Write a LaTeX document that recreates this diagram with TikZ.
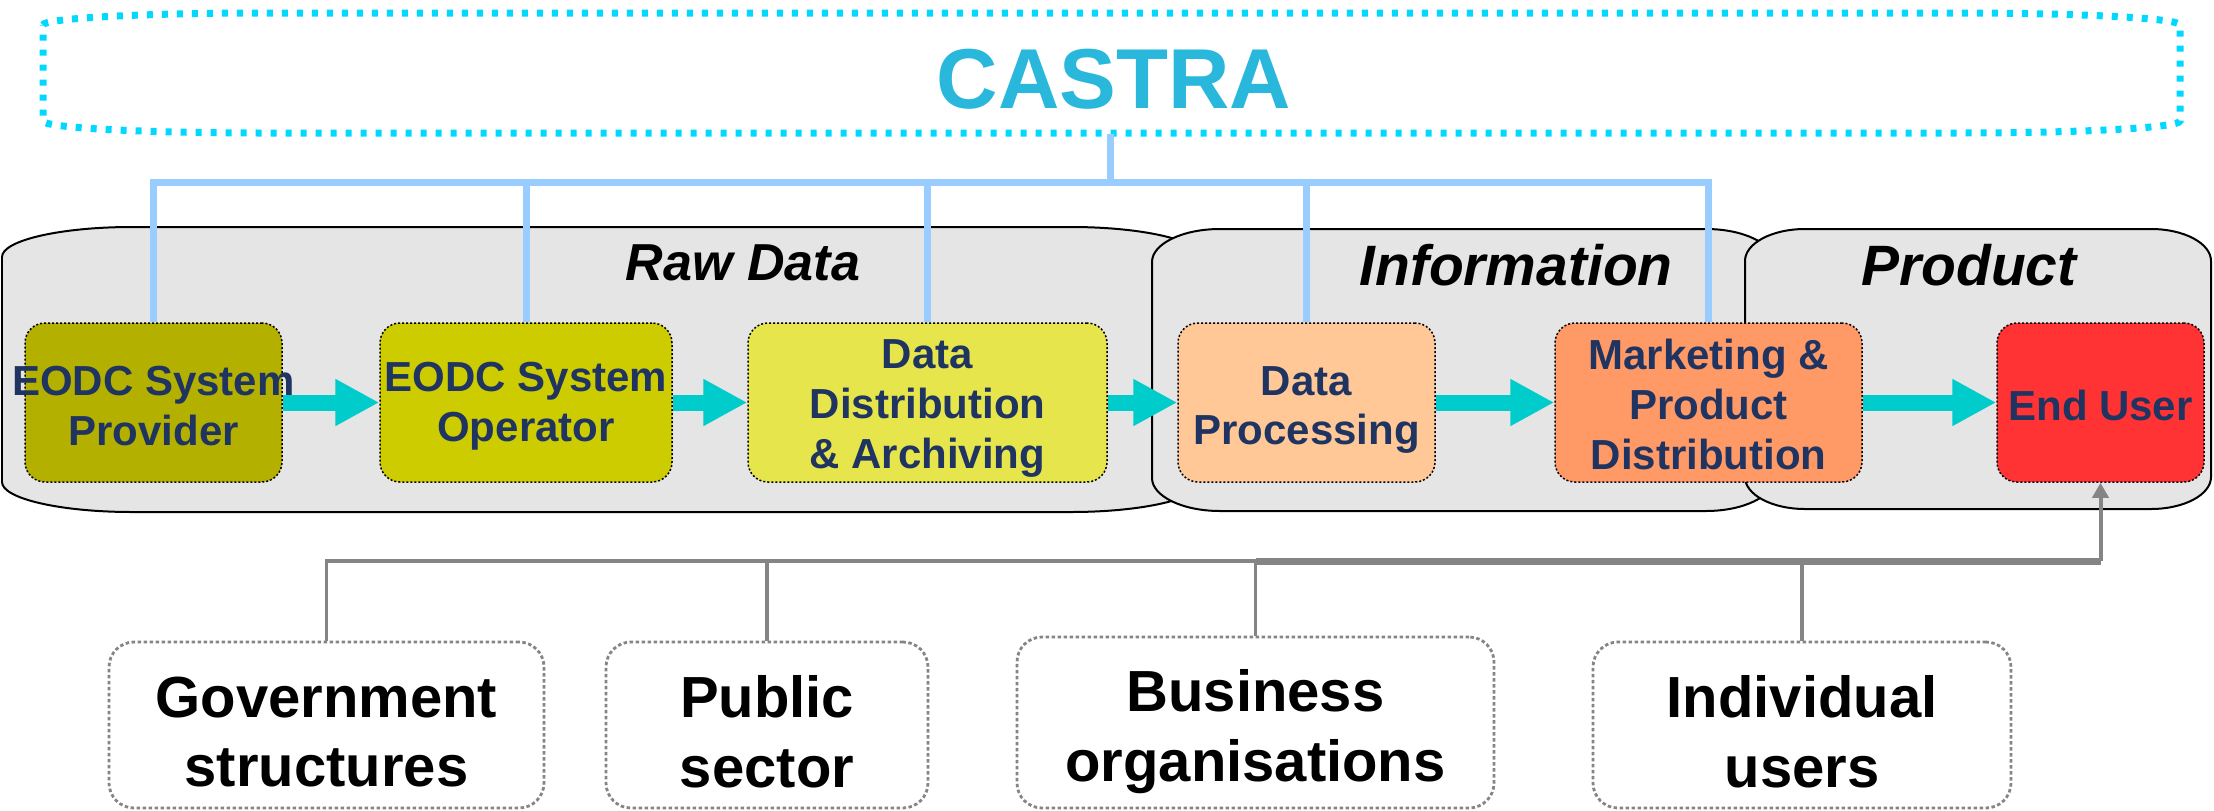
\documentclass[tikz,border=0pt]{standalone}
\usepackage{fontspec}
\setmainfont{Liberation Sans}
\usepackage{xcolor}
\usetikzlibrary{arrows.meta}

\definecolor{castracyan}{HTML}{00D8FF}
\definecolor{castratext}{HTML}{29B8DC}
\definecolor{linkblue}{HTML}{99CCFF}
\definecolor{groupgray}{HTML}{E5E5E5}
\definecolor{stagenavy}{HTML}{1F3461}
\definecolor{provcol}{HTML}{B3B000}
\definecolor{opercol}{HTML}{CCCC00}
\definecolor{archcol}{HTML}{E6E64C}
\definecolor{proccol}{HTML}{FFC896}
\definecolor{markcol}{HTML}{FF9966}
\definecolor{usercol}{HTML}{FF3333}
\definecolor{flowcyan}{HTML}{00CCCC}
\definecolor{usergray}{HTML}{858585}

% x1,y1,x2,y2,rx,ry
\newcommand{\ovalpath}[6]{(#1,#2+#6) .. controls (#1,#2+0.448*#6) and (#1+0.448*#5,#2) .. (#1+#5,#2)
 -- (#3-#5,#2) .. controls (#3-0.448*#5,#2) and (#3,#2+0.448*#6) .. (#3,#2+#6)
 -- (#3,#4-#6) .. controls (#3,#4-0.448*#6) and (#3-0.448*#5,#4) .. (#3-#5,#4)
 -- (#1+#5,#4) .. controls (#1+0.448*#5,#4) and (#1,#4-0.448*#6) .. (#1,#4-#6) -- cycle}

\begin{document}
\begin{tikzpicture}[x=0.1mm, y=-0.1mm,
  group/.style={fill=groupgray, draw=black, line width=0.2mm},
  grouptitle/.style={anchor=base, inner sep=0, font=\fontsize{16.2pt}{19pt}\selectfont\bfseries\itshape},
  stage/.style={draw=black, line width=0.15mm, dash pattern=on 0.2mm off 0.2mm, rounded corners=2mm, minimum height=15.9mm, inner sep=0},
  stagetext/.style={text=stagenavy, font=\fontsize{11.95pt}{14.2pt}\selectfont\bfseries, align=center, inner sep=0},
  flow/.style={flowcyan, line width=1.6mm, -{Triangle[length=4.4mm, width=4.4mm]}},
  castralink/.style={linkblue, line width=0.7mm},
  userbox/.style={draw=usergray, fill=white, line width=0.28mm, dash pattern=on 0.35mm off 0.25mm, rounded corners=2.5mm, minimum height=16.6mm, inner sep=0},
  usertext/.style={inner sep=0, align=center, font=\fontsize{16.5pt}{19.9pt}\selectfont\bfseries},
  userlink/.style={usergray, line width=0.35mm}]

\useasboundingbox (0,0) rectangle (2214,810);

% castra
\draw[castracyan, line width=0.7mm, dash pattern=on 0.6mm off 0.9mm] \ovalpath{43}{13}{2180}{133}{220}{12};
\node[minimum width=213.7mm, minimum height=12mm, inner sep=0] (castra) at (1111.5,73) {};
\node[anchor=base, inner sep=0, text=castratext, font=\fontsize{24.2pt}{29pt}\selectfont\bfseries] (castratitle) at (1114,108) {CASTRA};

% groups
\draw[group] \ovalpath{2}{227}{1201}{512}{130}{30};
\node[grouptitle, font=\fontsize{14.8pt}{18pt}\selectfont\bfseries\itshape] (rawtitle) at (743,280) {Raw Data};

\draw[group] \ovalpath{1152}{229}{1774}{511}{68}{33};
\node[grouptitle] (infotitle) at (1516,285) {Information};

\draw[group] \ovalpath{1745}{229}{2211}{509}{60}{32};
\node[grouptitle] (prodtitle) at (1969,285) {Product};

% stages
\node[stage, fill=provcol, minimum width=25.7mm] (prov) at (153.5,402.5) {};
\node[stage, fill=opercol, minimum width=29.2mm] (oper) at (526,402.5) {};
\node[stage, fill=archcol, minimum width=35.9mm] (arch) at (927.5,402.5) {};
\node[stage, fill=proccol, minimum width=25.7mm] (proc) at (1306.5,402.5) {};
\node[stage, fill=markcol, minimum width=30.7mm] (mark) at (1708.5,402.5) {};
\node[stage, fill=usercol, minimum width=20.7mm] (enduser) at (2100.5,402.5) {};

\node[stagetext] (provtext) at ([yshift=-0.35mm]prov) {EODC System\\Provider};
\node[stagetext] (opertext) at ([yshift=-0.35mm]oper) {EODC System\\Operator};
\node[stagetext] (archtext) at ([yshift=-0.6mm]arch) {Data\\Distribution\\\& Archiving};
\node[stagetext] (proctext) at ([yshift=-0.75mm]proc) {Data\\Processing};
\node[stagetext] (marktext) at ([yshift=-0.2mm]mark) {Marketing \&\\Product\\Distribution};
\node[stagetext] (endusertext) at ([yshift=-0.3mm]enduser) {End User};

% castra links
\coordinate (cbus) at (1110,182);
\draw[castralink] (castra.south -| cbus) -- (cbus);
\draw[castralink] (prov.north) |- (mark.north |- cbus) -- (mark.north);
\foreach \s in {oper,arch,proc}
  \draw[castralink] (\s.north) -- (\s.north |- cbus);

% flow arrows
\foreach \a/\b in {prov/oper, oper/arch, arch/proc, proc/mark, mark/enduser}
  \draw[flow] (\a.east) -- (\b.west);

% users
\node[userbox, minimum width=43.5mm] (gov) at (326.5,725) {};
\node[userbox, minimum width=32.2mm] (pub) at (767,725) {};
\node[userbox, minimum width=47.7mm, minimum height=17.1mm] (biz) at (1255.5,722.5) {};
\node[userbox, minimum width=41.8mm] (ind) at (1802,725) {};

\node[usertext] (govtext) at ([yshift=-0.7mm]gov) {Government\\structures};
\node[usertext] (pubtext) at ([yshift=-0.7mm]pub) {Public\\sector};
\node[usertext] (biztext) at ([yshift=-0.9mm]biz) {Business\\organisations};
\node[usertext] (indtext) at ([yshift=-0.7mm]ind) {Individual\\users};

\coordinate (junc) at (1255.5,561);
\draw[userlink] (gov.north) |- (junc);
\draw[userlink] (pub.north) -- (pub.north |- junc);
\draw[userlink] (biz.north) -- (junc);
\draw[userlink] (ind.north) -- (ind.north |- junc);
\draw[userlink, line width=0.7mm] (junc) -- (junc -| enduser.south);
\draw[userlink, line width=0.4mm, -{Triangle[length=1.5mm, width=1.6mm]}] (junc -| enduser.south) -- (enduser.south);

\end{tikzpicture}
\end{document}
